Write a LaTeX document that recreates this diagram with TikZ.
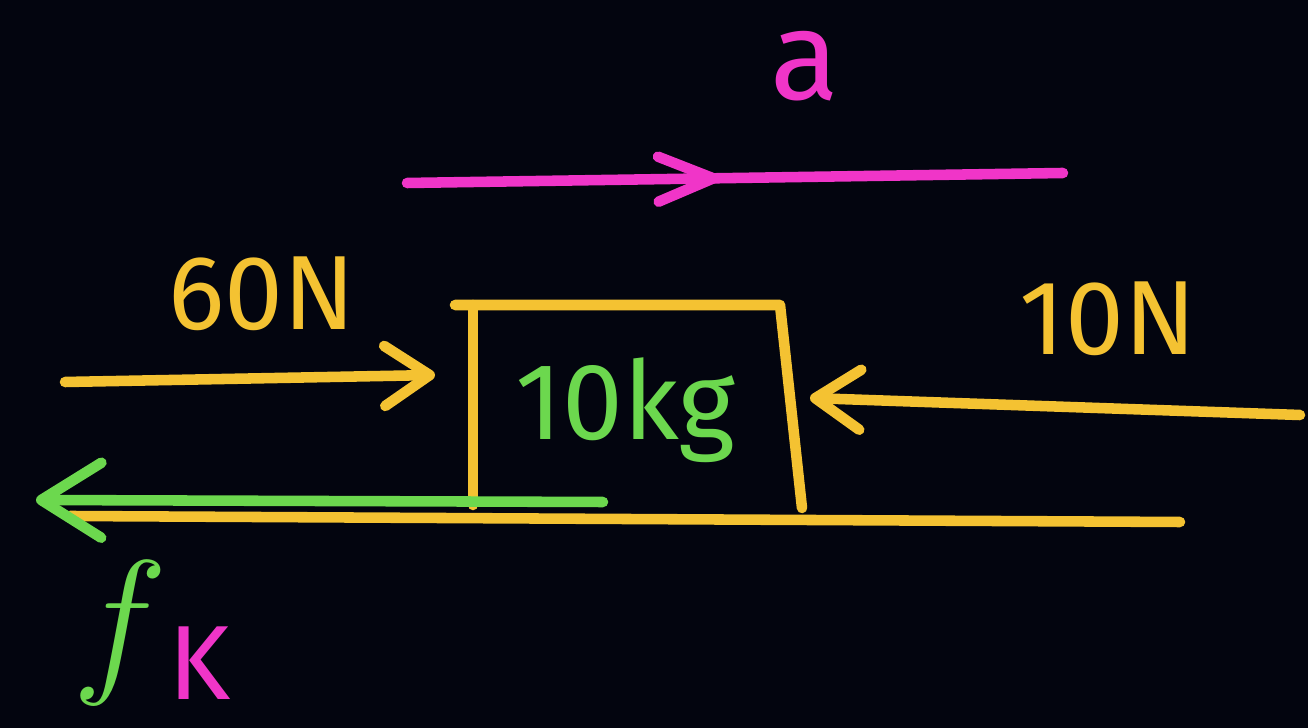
\documentclass[tikz,border=0pt]{standalone}
\usepackage{fix-cm}
\usepackage{fontspec}
\setsansfont{Fira Sans}
\usetikzlibrary{arrows.meta,decorations.markings}
\definecolor{chalkbg}{HTML}{03050F}
\definecolor{chalkyellow}{HTML}{F4C232}
\definecolor{chalkgreen}{HTML}{6CD84E}
\definecolor{chalkpink}{HTML}{F035C8}
\tikzset{
  pen/.style={line width=3pt, line cap=round, line join=round},
  force/.style={pen, -{Straight Barb[length=4.5mm, width=6mm, round]}},
  hand/.style={font=\sffamily\fontsize{#1}{#1}\selectfont, anchor=base, inner sep=0pt},
}
\begin{document}
\begin{tikzpicture}[x=0.01cm, y=-0.01cm]
\fill[chalkbg] (0,0) rectangle (1308,728);
\useasboundingbox (0,0) rectangle (1308,728);

% acceleration
\node[hand=36, chalkpink] (acc) at (805,100) {a};
\coordinate (acc-s) at (407,183);
\coordinate (acc-e) at (1063,173);
\draw[pen, chalkpink, decoration={markings,
  mark=at position 0.475 with {\arrow{Straight Barb[length=5.5mm, width=4.5mm, round]}}},
  postaction={decorate}] (acc-s) -- (acc-e);

% block and ground
\draw[pen, chalkyellow] (455,305) -- (780,305) -- (802,508);
\draw[pen, chalkyellow] (473,305) -- (473,505);
\coordinate (gnd-s) at (70,516);
\coordinate (gnd-e) at (1180,522);
\draw[pen, chalkyellow] (gnd-s) -- (gnd-e);
\node[hand=31, chalkgreen] (mass) at (625,440) {10kg};

% applied forces
\node[hand=30, chalkyellow] (push) at (262,330) {60N};
\coordinate (push-s) at (65,382);
\coordinate (push-e) at (435,375);
\draw[force, chalkyellow] (push-s) -- (push-e);
\node[hand=30, chalkyellow] (pull) at (1108,355) {10N};
\coordinate (pull-s) at (1300,415);
\coordinate (pull-e) at (810,398);
\draw[force, chalkyellow] (pull-s) -- (pull-e);

% kinetic friction
\coordinate (fric-s) at (603,502);
\coordinate (fric-e) at (36,500);
\draw[pen, chalkgreen, -{Straight Barb[length=6mm, width=7.5mm, round]}] (fric-s) -- (fric-e);
\node[font=\fontsize{46}{46}\selectfont, chalkgreen, anchor=base, inner sep=0pt] (fk) at (120,674) {$f$};
\node[hand=30, chalkpink] (fk-sub) at (200,700) {K};
\end{tikzpicture}
\end{document}
